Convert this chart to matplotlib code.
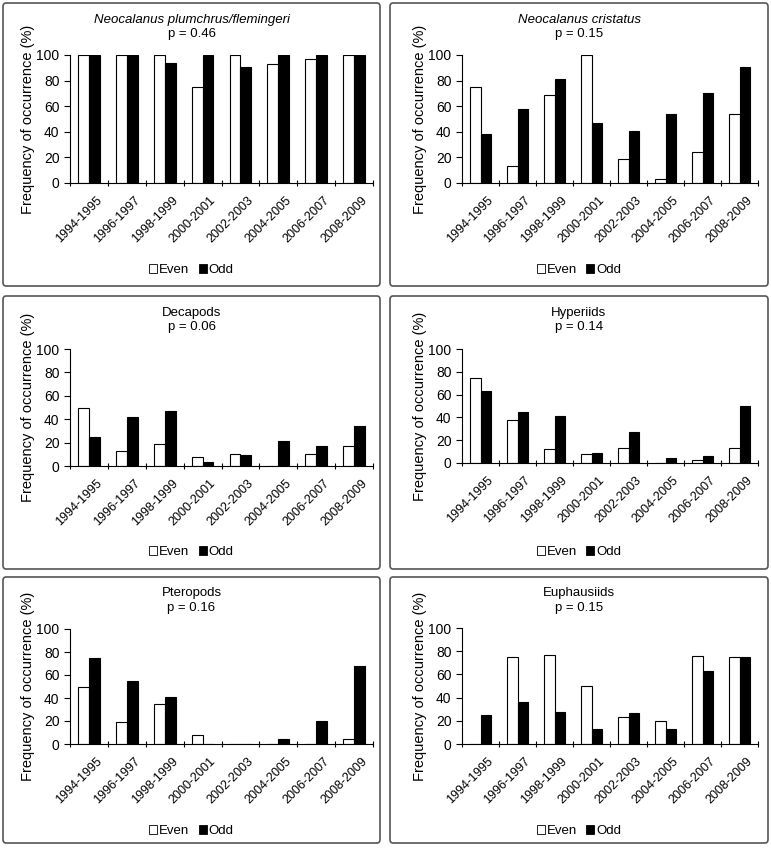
import numpy as np
import matplotlib
matplotlib.use('Agg')
import matplotlib.pyplot as plt
import matplotlib.transforms as mtransforms
from matplotlib.patches import FancyBboxPatch, Patch

plt.rcParams['font.family'] = ['Liberation Sans', 'DejaVu Sans']

periods = ['1994-1995', '1996-1997', '1998-1999', '2000-2001',
           '2002-2003', '2004-2005', '2006-2007', '2008-2009']

titles = ['Neocalanus plumchrus/flemingeri', 'Neocalanus cristatus',
          'Decapods', 'Hyperiids', 'Pteropods', 'Euphausiids']
pvalues = ['p = 0.46', 'p = 0.15', 'p = 0.06', 'p = 0.14', 'p = 0.16', 'p = 0.15']
italic = [True, True, False, False, False, False]

plumchrus_even = [100, 100, 100, 75, 100, 93, 97, 100]
plumchrus_odd = [100, 100, 94, 100, 91, 100, 100, 100]
cristatus_even = [75, 13, 69, 100, 19, 3, 24, 54]
cristatus_odd = [38, 58, 81, 47, 41, 54, 70, 91]
decapods_even = [50, 13, 19, 8, 10, 0, 10, 17]
decapods_odd = [25, 42, 47, 3, 9, 21, 17, 34]
hyperiids_even = [75, 38, 12, 8, 13, 0, 3, 13]
hyperiids_odd = [63, 45, 41, 9, 27, 4, 6, 50]
pteropods_even = [50, 19, 35, 8, 0, 0, 0, 4]
pteropods_odd = [75, 55, 41, 0, 0, 4, 20, 68]
euphausiids_even = [0, 75, 77, 50, 23, 20, 76, 75]
euphausiids_odd = [25, 36, 28, 13, 27, 13, 63, 75]

even_sets = [plumchrus_even, cristatus_even, decapods_even,
             hyperiids_even, pteropods_even, euphausiids_even]
odd_sets = [plumchrus_odd, cristatus_odd, decapods_odd,
            hyperiids_odd, pteropods_odd, euphausiids_odd]

W, H = 771, 849
fig = plt.figure(figsize=(W / 100, H / 100), dpi=100)

# pixel layout (left, right, top, bottom) for each axes
axes_px = [(70, 373, 55, 183), (462, 758, 55, 183),
           (70, 373, 349, 466), (462, 758, 349, 463),
           (70, 373, 629, 744), (462, 758, 628, 744)]
# panel boxes (x0, x1, y0, y1)
cols = [(3, 380), (390, 768)]
rows = [(3, 286), (296, 569), (577, 843)]
title_y = [(20, 34), (313, 327), (593, 608)]
legend_y = [270, 552, 831]

for r, (y0, y1) in enumerate(rows):
    for c, (x0, x1) in enumerate(cols):
        box = FancyBboxPatch((x0 / W, 1 - y1 / H), (x1 - x0) / W, (y1 - y0) / H,
                             boxstyle='round,pad=0,rounding_size=0.004',
                             transform=fig.transFigure, fill=False,
                             edgecolor='#555555', linewidth=1.2)
        fig.patches.append(box)

x = np.arange(len(periods))
w = 0.286
shift = mtransforms.ScaledTranslation(7 / 100, -3 / 100, fig.dpi_scale_trans)

for i in range(6):
    l, rgt, t, b = axes_px[i]
    ax = fig.add_axes([l / W, 1 - b / H, (rgt - l) / W, (b - t) / H])
    ax.bar(x - w / 2, even_sets[i], w, color='white', edgecolor='black', linewidth=0.8)
    ax.bar(x + w / 2, odd_sets[i], w, color='black', edgecolor='black', linewidth=0.8)
    ax.set_xlim(-0.5, len(periods) - 0.5)
    ax.set_ylim(0, 100)
    ax.set_yticks(range(0, 101, 20))
    ax.set_xticks(x)
    ax.set_xticks(np.arange(-0.5, len(periods)), minor=True)
    ax.tick_params(axis='x', which='major', length=0, pad=6)
    ax.tick_params(axis='x', which='minor', length=4, width=0.8, direction='inout')
    ax.tick_params(axis='y', labelsize=10, length=4, width=0.8)
    ax.set_xticklabels(periods, rotation=45, ha='right', rotation_mode='anchor', fontsize=9)
    for lab in ax.xaxis.get_majorticklabels():
        lab.set_transform(lab.get_transform() + shift)
    for s in ['top', 'right']:
        ax.spines[s].set_visible(False)
    for s in ['left', 'bottom']:
        ax.spines[s].set_linewidth(0.8)
    ax.set_ylabel('Frequency of occurrence (%)', fontsize=10.5, labelpad=1)

    r, c = divmod(i, 2)
    cx = (cols[c][0] + cols[c][1]) / 2 / W
    fig.text(cx, 1 - title_y[r][0] / H, titles[i], ha='center', va='center',
             fontsize=9.5, style='italic' if italic[i] else 'normal')
    fig.text(cx, 1 - title_y[r][1] / H, pvalues[i], ha='center', va='center', fontsize=9.5)

    handles = [Patch(facecolor='white', edgecolor='black', linewidth=0.6),
               Patch(facecolor='black', edgecolor='black', linewidth=0.6)]
    fig.legend(handles, ['Even', 'Odd'], loc='center', ncol=2,
               bbox_to_anchor=(cx, 1 - legend_y[r] / H), frameon=False,
               fontsize=9.5, handlelength=0.6, handleheight=0.6,
               handletextpad=0.15, columnspacing=0.7)

fig.savefig('out.png', dpi=100)
